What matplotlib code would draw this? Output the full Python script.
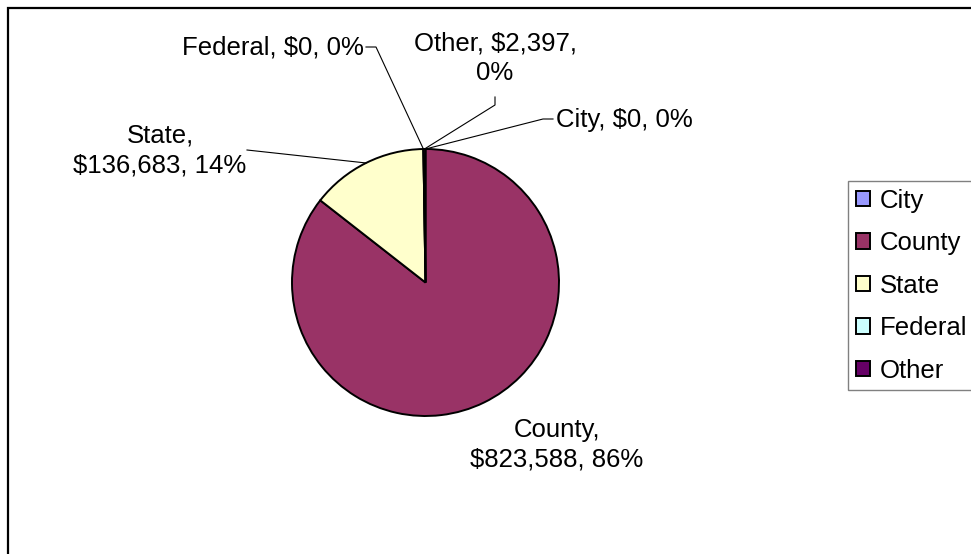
import numpy as np
import matplotlib
matplotlib.use('Agg')
import matplotlib.pyplot as plt
import matplotlib.patches as patches

# data
categories = ['City', 'County', 'State', 'Federal', 'Other']
amounts = [0, 823588, 136683, 0, 2397]
colors = ['#9999FF', '#993366', '#FFFFCC', '#CCFFFF', '#660066']

plt.rcParams['font.family'] = ['Liberation Sans', 'DejaVu Sans']
FS = 18.5

W, H = 971, 554
fig = plt.figure(figsize=(W / 100, H / 100), dpi=100)
ax = fig.add_axes([0, 0, 1, 1])


def Y(y):
    # pixel row -> data y
    return H - y


cx, cy, r = 425.5, Y(282.5), 133.5
wedges, _ = ax.pie(amounts, colors=colors, startangle=90, counterclock=False,
                   center=(cx, cy), radius=r,
                   wedgeprops=dict(edgecolor='black', linewidth=1.4))

ax.set_xlim(0, W)
ax.set_ylim(0, H)
ax.set_aspect('auto')
ax.axis('off')

# chart area border (runs off the right / bottom)
ax.add_patch(patches.Rectangle((8, Y(1000)), 1100, 1000 - 8, fill=False,
                               edgecolor='black', linewidth=1.6, clip_on=False))

total = sum(amounts)
# label layout: x, last-line baseline (px), ha, line break after which part, leader points
layout = {
    'City':    (556, 127, 'left', None, [(543, 119), (553, 119)]),
    'County':  (557, 467, 'center', 0, None),
    'State':   (160, 172, 'center', 0, [(247, 150)]),
    'Federal': (364, 54, 'right', None, [(376, 47), (366, 47)]),
    'Other':   (495, 80, 'center', 1, [(495, 105), (495, 97)]),
}

for w, name, val in zip(wedges, categories, amounts):
    pct = val / total * 100
    parts = [name, '$' + format(val, ','), '%.0f%%' % pct]
    x, yb, ha, brk, leader = layout[name]
    if brk is None:
        txt = ', '.join(parts)
    else:
        txt = ', '.join(parts[:brk + 1]) + ',\n' + ', '.join(parts[brk + 1:])
    ax.text(x, Y(yb), txt, ha=ha, va='baseline', fontsize=FS,
            multialignment='center', linespacing=1.3, color='black')
    if leader:
        mid = np.deg2rad((w.theta1 + w.theta2) / 2)
        px = [cx + r * np.cos(mid)] + [p[0] for p in leader]
        py = [cy + r * np.sin(mid)] + [Y(p[1]) for p in leader]
        ax.plot(px, py, color='black', linewidth=0.8)

leg = ax.legend(wedges, categories, loc='upper left',
                bbox_to_anchor=(848 / W, 1 - 181 / H), bbox_transform=fig.transFigure,
                borderaxespad=0, fancybox=False, framealpha=1, edgecolor='#808080',
                prop={'size': FS}, handlelength=0.55, handleheight=0.55,
                handletextpad=0.4, borderpad=0.3, labelspacing=0.72)
leg.get_frame().set_linewidth(1.0)

fig.savefig('out.png', dpi=100, facecolor='white')
